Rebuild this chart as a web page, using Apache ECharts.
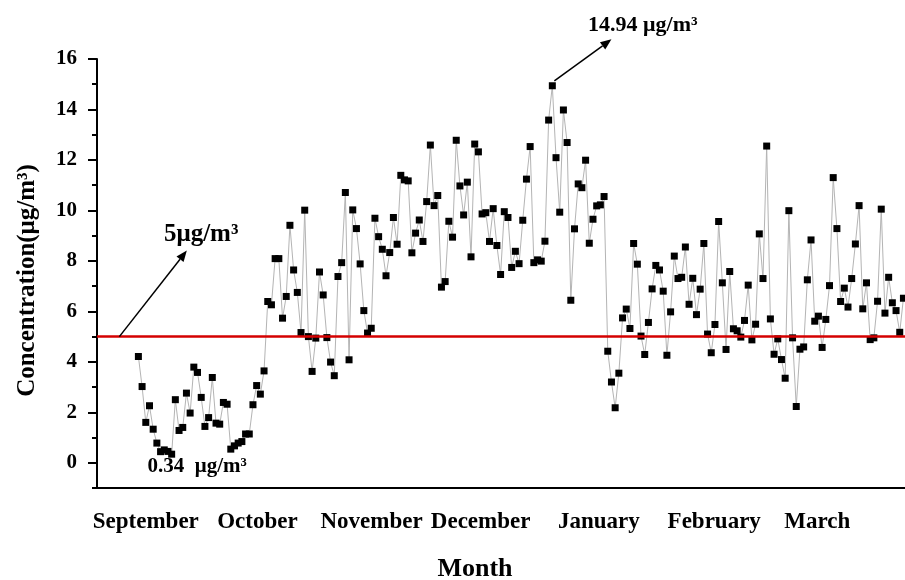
<!DOCTYPE html>
<html><head><meta charset="utf-8">
<script src="https://cdn.jsdelivr.net/npm/echarts@6/dist/echarts.min.js"></script>
<style>html,body{margin:0;padding:0;background:#fff}#c{width:905px;height:580px}</style>
</head><body><div id="c"></div>
<script>
// Daily concentration values (µg/m³), in order
const concentration = [
  4.21,3.02,1.60,2.26,1.33,0.78,0.44,0.51,0.45,0.34,
  2.50,1.28,1.40,2.76,1.97,3.79,3.58,2.59,1.44,1.79,
  3.38,1.57,1.53,2.39,2.32,0.54,0.67,0.78,0.84,1.14,
  1.14,2.30,3.06,2.72,3.64,6.39,6.26,8.09,8.09,5.73,
  6.59,9.41,7.64,6.75,5.16,10.01,5.00,3.62,4.94,7.56,
  6.65,4.96,3.99,3.45,7.38,7.93,10.71,4.08,10.02,9.28,
  7.88,6.03,5.14,5.33,9.69,8.96,8.46,7.41,8.33,9.72,
  8.66,11.39,11.21,11.17,8.32,9.10,9.62,8.77,10.35,12.59,
  10.19,10.59,6.96,7.18,9.57,8.94,12.78,10.97,9.82,11.12,
  8.16,12.63,12.32,9.86,9.91,8.77,10.07,8.61,7.46,9.95,
  9.72,7.74,8.38,7.89,9.61,11.24,12.53,7.93,8.04,7.99,
  8.78,13.58,14.94,12.09,9.93,13.98,12.69,6.44,9.27,11.05,
  10.90,11.99,8.70,9.65,10.18,10.22,10.55,4.42,3.20,2.18,
  3.55,5.74,6.09,5.32,8.69,7.87,5.02,4.29,5.56,6.89,
  7.82,7.64,6.80,4.26,5.98,8.19,7.30,7.35,8.55,6.28,
  7.31,5.87,6.88,8.69,5.10,4.36,5.48,9.56,7.13,4.49,
  7.58,5.31,5.23,4.98,5.64,7.04,4.87,5.49,9.07,7.30,
  12.55,5.70,4.30,4.91,4.09,3.35,9.99,4.95,2.23,4.50,
  4.59,7.25,8.83,5.61,5.81,4.57,5.68,7.02,11.30,9.28,
  6.39,6.92,6.17,7.30,8.67,10.19,6.10,7.13,4.88,4.95,
  6.40,10.05,5.93,7.35,6.34,6.03,5.17,6.52
];
// Month tick labels and their positions on the day-index axis
const monthNames = ['September','October','November','December','January','February','March'];
const monthTickPositions = [2.0, 32.2, 63.1, 92.6, 124.6, 155.8, 183.7];
// Y axis ticks
const yMajorTicks = [0,2,4,6,8,10,12,14,16];
const yMinorTicks = [-1,1,3,5,7,9,11,13,15];
const limitValue = 5;

const FONT = '"Liberation Serif","Times New Roman",serif';

let minIdx = 0, maxIdx = 0;
concentration.forEach((v,i)=>{ if(v<concentration[minIdx]) minIdx=i; if(v>concentration[maxIdx]) maxIdx=i; });

const chart = echarts.init(document.getElementById('c'), null, {renderer:'canvas'});
const option = {
  animation:false,
  backgroundColor:'#fff',
  grid:{left:97, top:59, width:836, height:429, outerBoundsMode:'none', containLabel:false},
  xAxis:{
    type:'value', min:-11.2, max:215,
    axisLine:{show:true, onZero:false, lineStyle:{color:'#000', width:2}},
    axisTick:{show:false},
    splitLine:{show:false},
    axisLabel:{
      customValues: monthTickPositions,
      formatter: function(v){
        let best=0; monthTickPositions.forEach((p,k)=>{ if(Math.abs(p-v)<Math.abs(monthTickPositions[best]-v)) best=k; });
        return monthNames[best];
      },
      margin:23, color:'#000', fontSize:23, fontWeight:'bold', fontFamily:FONT, hideOverlap:false
    }
  },
  yAxis:[{
    type:'value', min:-1, max:16, position:'left',
    name:'Concentration(μg/m³)', nameLocation:'middle', nameGap:57, nameRotate:90,
    nameTextStyle:{color:'#000', fontSize:25, fontWeight:'bold', fontFamily:FONT, padding:[0,14,0,0]},
    axisLine:{show:true, onZero:false, lineStyle:{color:'#000', width:2}},
    axisTick:{show:true, inside:false, length:9, customValues:yMajorTicks, lineStyle:{color:'#000', width:2}},
    axisLabel:{customValues:yMajorTicks, margin:20, color:'#000', fontSize:21, fontWeight:'bold', fontFamily:FONT},
    splitLine:{show:false}
  },{
    type:'value', min:-1, max:16, position:'left',
    axisLine:{show:false, onZero:false},
    axisTick:{show:true, inside:false, length:5, customValues:yMinorTicks, lineStyle:{color:'#000', width:2}},
    axisLabel:{show:false},
    splitLine:{show:false}
  }],
  series:[{
    type:'line',
    data: concentration.map((v,i)=>[i,v]),
    symbol:'rect', symbolSize:7,
    itemStyle:{color:'#000'},
    lineStyle:{color:'#b4b4b4', width:1},
    z:3,
    markLine:{
      silent:true, symbol:['none','none'],
      label:{show:false},
      lineStyle:{color:'#d40000', width:2.5, type:'solid'},
      data:[{yAxis:limitValue}]
    }
  }]
};
chart.setOption(option);

// Annotations anchored in data coordinates
const annotations = [
  {from:[-5.15, limitValue], to:[13.1, 8.41], text:'5μg/m³', at:[17.0, 9.03], size:25},
  {from:[maxIdx+0.55, concentration[maxIdx]+0.19], to:[128.0, 16.78], text:concentration[maxIdx].toFixed(2)+' μg/m³', at:[136.5, 17.35], size:22},
  {text:concentration[minIdx].toFixed(2)+'  μg/m³', at:[15.9, -0.16], size:21}
];
function px(p){ return chart.convertToPixel({xAxisIndex:0, yAxisIndex:0}, p); }
const graphics = [];
annotations.forEach(a=>{
  if(a.from){
    const p0 = px(a.from), p1 = px(a.to);
    const dx = p1[0]-p0[0], dy = p1[1]-p0[1], L = Math.hypot(dx,dy);
    const ux = dx/L, uy = dy/L, hl = 11, hw = 4.5;
    const bx = p1[0]-ux*hl, by = p1[1]-uy*hl;
    graphics.push({type:'line', shape:{x1:p0[0], y1:p0[1], x2:bx, y2:by}, style:{stroke:'#000', lineWidth:1.5}, z:10});
    graphics.push({type:'polygon', shape:{points:[[p1[0],p1[1]],[bx-uy*hw, by+ux*hw],[bx+uy*hw, by-ux*hw]]}, style:{fill:'#000'}, z:10});
  }
  const c = px(a.at);
  graphics.push({type:'text', x:c[0], y:c[1], style:{text:a.text, fill:'#000', font:'bold '+a.size+'px '+FONT, align:'center', verticalAlign:'middle'}, z:10});
});
graphics.push({type:'text', x:475, y:569, style:{text:'Month', fill:'#000', font:'bold 26px '+FONT, align:'center', verticalAlign:'middle'}, z:10});
chart.setOption({graphic:graphics});
</script>
</body></html>
